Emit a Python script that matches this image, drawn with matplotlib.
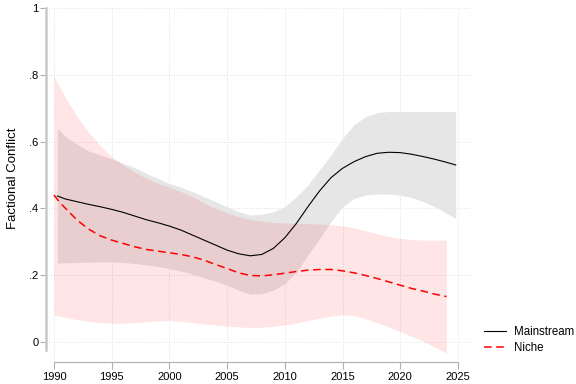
import matplotlib.pyplot as plt

plt.rcParams['font.family'] = ['Liberation Sans', 'DejaVu Sans']

# ------------- Data ------------- #
main_years = [1990.3, 1991, 1992, 1993, 1994, 1995, 1996, 1997, 1998, 1999, 2000,
              2001, 2002, 2003, 2004, 2005, 2006, 2007, 2008, 2009, 2010, 2011,
              2012, 2013, 2014, 2015, 2016, 2017, 2018, 2019, 2020, 2021, 2022,
              2023, 2024, 2024.8]
main_fit = [0.437, 0.428, 0.420, 0.412, 0.405, 0.397, 0.388, 0.377, 0.366, 0.357, 0.347,
            0.335, 0.320, 0.305, 0.290, 0.275, 0.264, 0.258, 0.262, 0.280, 0.312, 0.355,
            0.405, 0.452, 0.492, 0.520, 0.540, 0.555, 0.565, 0.568, 0.567, 0.562, 0.555,
            0.547, 0.538, 0.530]
main_lo = [0.236, 0.237, 0.238, 0.239, 0.240, 0.240, 0.238, 0.235, 0.231, 0.226, 0.220,
           0.212, 0.203, 0.192, 0.182, 0.170, 0.155, 0.143, 0.145, 0.155, 0.175, 0.210,
           0.260, 0.310, 0.360, 0.405, 0.430, 0.440, 0.443, 0.443, 0.440, 0.432, 0.420,
           0.405, 0.385, 0.370]
main_hi = [0.640, 0.615, 0.592, 0.572, 0.560, 0.548, 0.535, 0.522, 0.505, 0.490, 0.475,
           0.463, 0.450, 0.435, 0.420, 0.405, 0.390, 0.380, 0.382, 0.390, 0.405, 0.435,
           0.470, 0.515, 0.560, 0.610, 0.650, 0.675, 0.687, 0.690, 0.690, 0.690, 0.690,
           0.690, 0.690, 0.690]

niche_years = [1990, 1990.5, 1991, 1992, 1993, 1994, 1995, 1996, 1997, 1998, 1999, 2000,
               2001, 2002, 2003, 2004, 2005, 2006, 2007, 2008, 2009, 2010, 2011,
               2012, 2013, 2014, 2015, 2016, 2017, 2018, 2019, 2020, 2021, 2022,
               2023, 2024]
niche_fit = [0.440, 0.418, 0.400, 0.365, 0.338, 0.318, 0.305, 0.295, 0.285, 0.277, 0.272, 0.267,
             0.262, 0.255, 0.245, 0.232, 0.220, 0.207, 0.199, 0.198, 0.201, 0.206, 0.211,
             0.215, 0.217, 0.217, 0.213, 0.207, 0.199, 0.190, 0.180, 0.170, 0.160, 0.152,
             0.143, 0.136]
niche_lo = [0.081, 0.077, 0.073, 0.067, 0.062, 0.058, 0.056, 0.056, 0.058, 0.061, 0.063, 0.064,
            0.062, 0.058, 0.054, 0.051, 0.048, 0.045, 0.043, 0.044, 0.047, 0.051, 0.057,
            0.064, 0.071, 0.077, 0.081, 0.079, 0.069, 0.057, 0.045, 0.031, 0.017, 0.002,
            -0.016, -0.033]
niche_hi = [0.795, 0.763, 0.732, 0.675, 0.628, 0.588, 0.555, 0.530, 0.508, 0.490, 0.475, 0.463,
            0.450, 0.435, 0.415, 0.400, 0.387, 0.375, 0.367, 0.362, 0.358, 0.356, 0.355,
            0.354, 0.353, 0.351, 0.348, 0.342, 0.333, 0.324, 0.316, 0.310, 0.307, 0.305,
            0.305, 0.305]

xticks = [1990, 1995, 2000, 2005, 2010, 2015, 2020, 2025]
yticks = [0, 0.2, 0.4, 0.6, 0.8, 1]
ytick_labels = ['0', '.2', '.4', '.6', '.8', '1']

# ------------- Plot Setup ------------- #
fig = plt.figure(figsize=(5.76, 3.84), dpi=100)
ax = fig.add_axes([46 / 576, 1 - 362 / 384, 424 / 576, 354 / 384])

ax.fill_between(main_years, main_lo, main_hi, color='#e6e6e6', linewidth=0, zorder=1)
ax.fill_between(niche_years, niche_lo, niche_hi, color='red', alpha=0.1, linewidth=0, zorder=2)
ax.plot(main_years, main_fit, color='black', linewidth=0.8, label='Mainstream', zorder=3)
ax.plot(niche_years, niche_fit, color='red', linewidth=1.1, dashes=(5, 3), label='Niche', zorder=4)

ax.set_xlim(1989.31, 2026.04)
ax.set_ylim(-0.06, 1.0)
ax.set_xticks(xticks)
ax.set_yticks(yticks)
ax.set_yticklabels(ytick_labels)
ax.grid(True, linestyle=(0, (1, 2)), color='#d8d8d8', linewidth=0.6, zorder=0)
ax.set_axisbelow(True)

for s in ['top', 'right']:
    ax.spines[s].set_visible(False)
ax.spines['left'].set_color('#c8c8c8')
ax.spines['left'].set_linewidth(1.8)
ax.spines['left'].set_bounds(-0.025, 1.0)
ax.spines['bottom'].set_color('#b0b0b0')
ax.spines['bottom'].set_linewidth(0.8)
ax.spines['bottom'].set_bounds(1990, 2025)
ax.tick_params(axis='y', length=4, width=0.8, color='#b0b0b0', pad=1.5, labelsize=8)
ax.tick_params(axis='x', length=5, width=0.8, color='#b0b0b0', pad=2, labelsize=8)

ax.set_ylabel('Factional Conflict', fontsize=9.5)
ax.yaxis.set_label_coords(-0.063, 0.52)

fig.legend(loc='upper left', bbox_to_anchor=(474 / 576, 1 - 316 / 384), frameon=False,
           fontsize=8.3, handlelength=1.9, handletextpad=0.7, labelspacing=0.35)

# ------------- Save plot ------------- #
fig.savefig('out.png', dpi=100)
